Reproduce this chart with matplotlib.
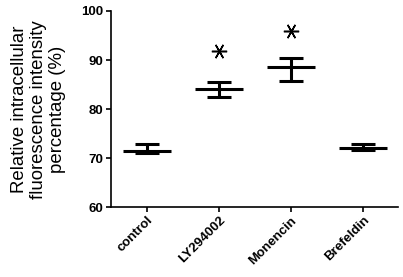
import numpy as np
import matplotlib
matplotlib.use('Agg')
import matplotlib.pyplot as plt

plt.rcParams['font.family'] = ['Liberation Sans', 'DejaVu Sans']

groups = ['control', 'LY294002', 'Monencin', 'Brefeldin']
means = [71.55, 84.05, 88.65, 72.0]
highs = [72.9, 85.6, 90.4, 72.9]
lows = [71.0, 82.55, 85.75, 71.6]
star_groups = ['LY294002', 'Monencin']
star_y = [91.9, 96.0]

x = np.arange(len(groups))
means = np.array(means)
err = [means - np.array(lows), np.array(highs) - means]

fig = plt.figure(figsize=(4.03, 2.77), dpi=100)
ax = fig.add_axes([0.2747, 0.2516, 0.7129, 0.7087])

ax.hlines(means, x - 0.335, x + 0.335, color='black', linewidth=2.2)
ax.errorbar(x, means, yerr=err, fmt='none', ecolor='black', elinewidth=2.2,
            capsize=8.6, capthick=2.2)

# significance asterisks
sx = [groups.index(g) for g in star_groups]
ax.plot(sx, star_y, linestyle='none', marker=(6, 2, 90), markersize=11,
        markeredgewidth=1.1, color='black')

ax.set_xlim(-0.504, 3.486)
ax.set_ylim(60, 100)
ax.set_yticks([60, 70, 80, 90, 100])
ax.set_xticks(x)
ax.set_xticklabels(groups, rotation=45, ha='right', rotation_mode='anchor',
                   fontweight='bold', fontsize=9.5)
for lab in ax.get_yticklabels():
    lab.set_fontweight('bold')
    lab.set_fontsize(9.5)

for s in ['top', 'right']:
    ax.spines[s].set_visible(False)
for s in ['left', 'bottom']:
    ax.spines[s].set_linewidth(1.2)
ax.tick_params(axis='both', width=1.2, length=3.6, pad=1.5)

ax.set_ylabel('Relative intracellular\nfluorescence intensity\npercentage (%)',
              fontsize=13.4, linespacing=1.15)
ax.yaxis.set_label_coords(-0.155, 0.5)

fig.savefig('out.png', dpi=100)
